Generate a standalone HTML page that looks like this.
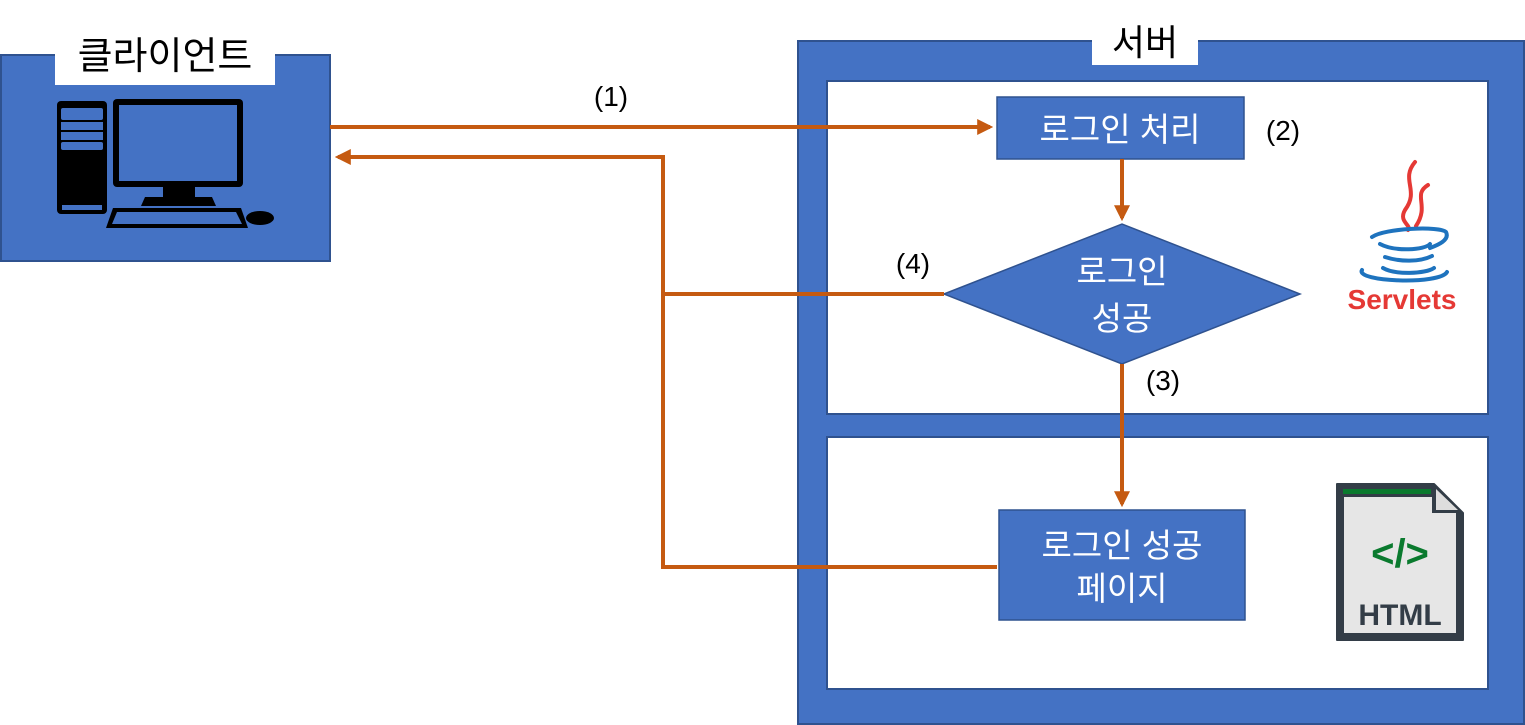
<!DOCTYPE html>
<html><head><meta charset="utf-8"><style>html,body{margin:0;padding:0;background:#fff}svg{display:block}</style></head>
<body>
<svg width="1525" height="725" viewBox="0 0 1525 725" xmlns="http://www.w3.org/2000/svg" font-family="'Liberation Sans','Noto Sans CJK KR',sans-serif">
<defs><marker id="a" markerWidth="4" markerHeight="4" refX="3.2" refY="2" orient="auto"><path d="M0,0 L4,2 L0,4 Z" fill="#C55A11"/></marker></defs>
<rect x="1" y="55" width="329" height="206" fill="#4472C4" stroke="#2F528F" stroke-width="2"/>
<rect x="55" y="28" width="220" height="57" fill="#fff"/>
<text x="165" y="69" font-size="38" text-anchor="middle" fill="#000">클라이언트</text>
<rect x="57" y="101" width="50" height="113" rx="4" fill="#000"/>
<rect x="61" y="108" width="42" height="12" rx="2" fill="#4472C4"/>
<rect x="61" y="122" width="42" height="8" fill="#4472C4"/>
<rect x="61" y="132" width="42" height="8" fill="#4472C4"/>
<rect x="61" y="142" width="42" height="8" rx="2" fill="#4472C4"/>
<rect x="62" y="205" width="40" height="5" fill="#4472C4"/>
<rect x="113" y="99" width="130" height="88" rx="4" fill="#000"/>
<rect x="119" y="105" width="118" height="76" fill="#4472C4"/>
<rect x="163" y="187" width="32" height="12" fill="#000"/>
<polygon points="141,206 216,206 212,197 145,197" fill="#000"/>
<polygon points="106,228 248,228 241,208 113,208" fill="#000"/>
<polygon points="112,224 242,224 236,212 117,212" fill="#4472C4"/>
<ellipse cx="260" cy="218" rx="14" ry="7" fill="#000"/>
<rect x="798" y="41" width="726" height="683" fill="#4472C4" stroke="#2F528F" stroke-width="2"/>
<rect x="1092" y="22" width="106" height="43" fill="#fff"/>
<text x="1145" y="55" font-size="36" text-anchor="middle" fill="#000">서버</text>
<rect x="827" y="81" width="661" height="333" fill="#fff" stroke="#2F528F" stroke-width="2"/>
<rect x="827" y="437" width="661" height="252" fill="#fff" stroke="#2F528F" stroke-width="2"/>
<rect x="997" y="97" width="247" height="62" fill="#4472C4" stroke="#2F528F" stroke-width="1.5"/>
<text x="1120" y="141" font-size="33" text-anchor="middle" fill="#fff">로그인 처리</text>
<polygon points="944,294 1122,224 1300,294 1122,364" fill="#4472C4" stroke="#2F528F" stroke-width="1.5"/>
<text x="1122" y="283" font-size="33" text-anchor="middle" fill="#fff">로그인</text>
<text x="1122" y="330" font-size="33" text-anchor="middle" fill="#fff">성공</text>
<rect x="999" y="510" width="246" height="110" fill="#4472C4" stroke="#2F528F" stroke-width="1.5"/>
<text x="1122" y="557" font-size="33" text-anchor="middle" fill="#fff">로그인 성공</text>
<text x="1122" y="600" font-size="33" text-anchor="middle" fill="#fff">페이지</text>
<g fill="none" stroke="#E53935" stroke-width="4" stroke-linecap="round">
<path d="M1415,162 C1400,180 1420,190 1405,210 C1398,222 1412,225 1408,230"/>
<path d="M1428,185 C1412,195 1430,205 1416,226"/>
</g>
<g fill="none" stroke="#1E73BE" stroke-width="4" stroke-linecap="round">
<path d="M1372,237 C1385,228 1440,226 1446,232 C1450,240 1438,245 1430,248"/>
<path d="M1380,244 C1395,252 1425,250 1430,244"/>
<path d="M1385,257 C1400,262 1420,262 1432,256"/>
<path d="M1383,268 C1395,275 1425,274 1434,268"/>
<path d="M1362,270 C1355,282 1440,285 1447,272"/>
</g>
<text x="1402" y="309" font-size="28" font-weight="bold" text-anchor="middle" fill="#E53935">Servlets</text>
<path d="M1337,484 L1434,484 L1463,513 L1463,640 L1337,640 Z" fill="#333D47" stroke="#333D47" stroke-width="2" stroke-linejoin="round"/>
<path d="M1344,497 L1432,497 L1432,513 L1456,513 L1456,633 L1344,633 Z" fill="#E6E6E6"/>
<rect x="1343" y="489" width="88" height="5" fill="#0A7A2E"/>
<polygon points="1436,489 1458,510 1436,510" fill="#DDD"/>
<text x="1400" y="567" font-size="40" font-weight="bold" text-anchor="middle" fill="#0A7A2E">&lt;/&gt;</text>
<text x="1400" y="625" font-size="30" font-weight="bold" text-anchor="middle" fill="#333D47">HTML</text>
<g stroke="#C55A11" stroke-width="4" fill="none">
<line x1="330" y1="127" x2="990" y2="127" marker-end="url(#a)"/>
<polyline points="997,567 663,567 663,157 338,157" marker-end="url(#a)"/>
<line x1="944" y1="294" x2="663" y2="294"/>
<line x1="1122" y1="159" x2="1122" y2="218" marker-end="url(#a)"/>
<line x1="1122" y1="364" x2="1122" y2="504" marker-end="url(#a)"/>
</g>
<g font-size="28" fill="#000" text-anchor="middle">
<text x="611" y="106">(1)</text>
<text x="1283" y="140">(2)</text>
<text x="913" y="273">(4)</text>
<text x="1163" y="390">(3)</text>
</g>
</svg>
</body></html>
